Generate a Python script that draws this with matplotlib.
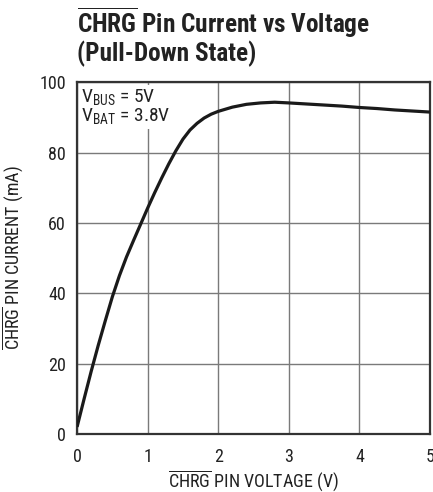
import matplotlib
matplotlib.use('Agg')
import matplotlib.pyplot as plt

plt.rcParams['font.family'] = ['Roboto Condensed', 'Archivo Narrow', 'DejaVu Sans']
plt.rcParams['mathtext.fontset'] = 'custom'
plt.rcParams['mathtext.rm'] = 'Roboto Condensed'
plt.rcParams['mathtext.bf'] = 'Roboto Condensed:bold'

# curve
voltage = [0.0, 0.1, 0.2, 0.3, 0.4, 0.5, 0.6, 0.7, 0.8, 0.9, 1.0, 1.1, 1.2, 1.3, 1.4,
           1.5, 1.6, 1.7, 1.8, 1.9, 2.0, 2.2, 2.4, 2.6, 2.8, 3.0, 3.25, 3.5, 3.75, 4.0,
           4.25, 4.5, 4.75, 5.0]
current = [2.0, 10.0, 17.8, 25.2, 32.2, 39.0, 45.0, 50.3, 55.0, 59.6, 64.2, 68.6, 72.8, 76.8, 80.5,
           83.8, 86.4, 88.3, 89.8, 90.9, 91.7, 92.9, 93.7, 94.1, 94.3, 94.1, 93.8, 93.5, 93.2, 92.8,
           92.5, 92.1, 91.8, 91.5]

x_ticks = [0, 1, 2, 3, 4, 5]
y_ticks = [0, 20, 40, 60, 80, 100]

fig = plt.figure(figsize=(4.33, 4.92), dpi=100)
ax = fig.add_axes([0.178, 0.118, 0.815, 0.715])

ax.plot(voltage, current, color='#1a1a1a', lw=2.3, solid_capstyle='butt', zorder=3)

ax.set_xlim(0, 5)
ax.set_ylim(0, 100)
ax.set_xticks(x_ticks)
ax.set_yticks(y_ticks)
ax.tick_params(length=0, labelsize=13, colors='#222222')
ax.tick_params(axis='x', pad=10)
ax.tick_params(axis='y', pad=8)
ax.grid(True, color='#7a7a7a', lw=1.0)
for s in ax.spines.values():
    s.set_color('#333333')
    s.set_linewidth(1.6)

ax.set_xlabel(r'$\overline{\mathrm{CHRG}}$ PIN VOLTAGE (V)', fontsize=13, color='#222222')
ax.xaxis.set_label_coords(0.5, -0.097)
ax.set_ylabel(r'$\overline{\mathrm{CHRG}}$ PIN CURRENT (mA)', fontsize=13, color='#222222', labelpad=10)

ax.text(0.012, 0.985, 'V$_{\\mathrm{BUS}}$ = 5V\nV$_{\\mathrm{BAT}}$ = 3.8V', transform=ax.transAxes,
        fontsize=14, va='top', ha='left', color='#222222', linespacing=0.95, zorder=2,
        bbox=dict(facecolor='white', edgecolor='none', pad=1.5))

fig.text(77 / 433, 1 - 33 / 492, r'$\overline{\mathbf{CHRG}}$ Pin Current vs Voltage',
         fontsize=18.2, fontweight='bold', color='#222222', va='baseline')
fig.text(77 / 433, 1 - 61 / 492, '(Pull-Down State)',
         fontsize=18.2, fontweight='bold', color='#222222', va='baseline')

fig.savefig('out.png', dpi=100)
